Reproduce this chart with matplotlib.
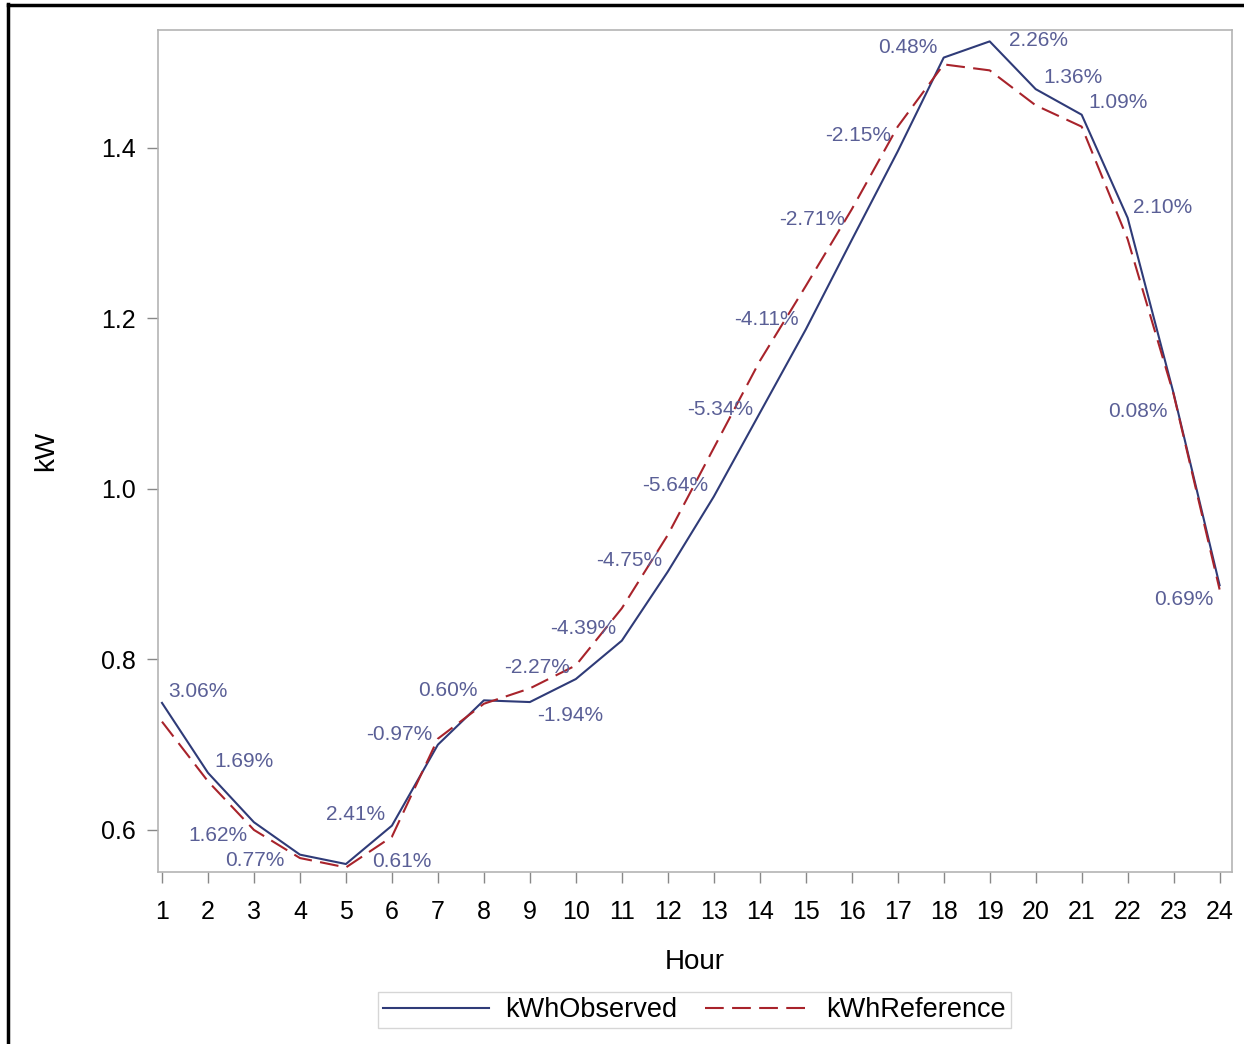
import matplotlib
matplotlib.use("Agg")
import matplotlib.pyplot as plt
from matplotlib.lines import Line2D

plt.rcParams['font.family'] = ['Liberation Sans', 'DejaVu Sans']

# --- data ---
hours = list(range(1, 25))
kwhObserved = [0.749, 0.667, 0.609, 0.571, 0.560, 0.605, 0.700, 0.752, 0.750, 0.777, 0.822, 0.903,
               0.991, 1.089, 1.187, 1.292, 1.396, 1.506, 1.525, 1.469, 1.439, 1.318, 1.112, 0.887]
kwhReference = [0.727, 0.657, 0.600, 0.567, 0.556, 0.592, 0.707, 0.748, 0.766, 0.793, 0.860, 0.946,
                1.048, 1.150, 1.238, 1.328, 1.425, 1.498, 1.491, 1.450, 1.425, 1.293, 1.111, 0.882]
pctLabels = ['3.06%', '1.69%', '1.62%', '0.77%', '0.61%', '2.41%', '-0.97%', '0.60%', '-2.27%', '-1.94%',
             '-4.39%', '-4.75%', '-5.64%', '-5.34%', '-4.11%', '-2.71%', '-2.15%', '0.48%', '2.26%', '1.36%',
             '1.09%', '2.10%', '0.08%', '0.69%']

# label offsets from the observed point, in pixels (x right, y down)
labelOffsets = [(36, -11), (36, -11), (-36, 13), (-45, 6), (56, -3), (-36, -11), (-39, -10), (-36, -10),
                (7, -35), (-6, 36), (-39, -12), (-39, -11), (-39, -11), (-40, -4), (-39, -10), (-40, -21),
                (-40, -16), (-36, -10), (49, -1), (37, -12), (36, -12), (35, -10), (-36, 18), (-36, 14)]

obsColor = '#2f3b78'
refColor = '#a8232b'
labelColor = '#5a5f96'

fig = plt.figure(figsize=(12.44, 10.44), dpi=100)
ax = fig.add_axes([0.127, 0.1648, 0.863, 0.8065])

ax.plot(hours, kwhObserved, color=obsColor, lw=1.5, label='kWhObserved')
ax.plot(hours, kwhReference, color=refColor, lw=1.5, dashes=(9, 4), label='kWhReference')

for h, v, t, (dx, dy) in zip(hours, kwhObserved, pctLabels, labelOffsets):
    ax.annotate(t, (h, v), xytext=(dx, -dy), textcoords='offset pixels',
                ha='center', va='center', fontsize=15, color=labelColor)

ax.set_xlim(0.913, 24.26)
ax.set_ylim(0.5507, 1.5384)
ax.set_xticks(hours)
ax.set_yticks([0.6, 0.8, 1.0, 1.2, 1.4])
ax.set_yticklabels(['0.6', '0.8', '1.0', '1.2', '1.4'])
ax.tick_params(axis='both', colors='#888888', labelcolor='black', labelsize=18, length=8, width=1)
ax.tick_params(axis='x', pad=12)
ax.tick_params(axis='y', pad=8)
for s in ax.spines.values():
    s.set_color('#b4b4b4')
    s.set_linewidth(1.2)

ax.set_xlabel('Hour', fontsize=20, labelpad=18)
ax.set_ylabel('kW', fontsize=20, labelpad=30)

leg = ax.legend(loc='upper center', bbox_to_anchor=(0.5, -0.126), ncol=2, fontsize=19.5,
                frameon=True, fancybox=False, handlelength=3.9, columnspacing=1.0,
                borderpad=0.2, handletextpad=0.6)
leg.get_frame().set_edgecolor('#cccccc')
leg.get_frame().set_linewidth(1)

# black frame around the picture (left and top edges visible)
fig.add_artist(Line2D([0.0064, 0.0064], [0, 0.996], color='black', lw=2.5, transform=fig.transFigure))
fig.add_artist(Line2D([0.0064, 1.0], [0.995, 0.995], color='black', lw=2.5, transform=fig.transFigure))

fig.savefig('out.png', dpi=100)
